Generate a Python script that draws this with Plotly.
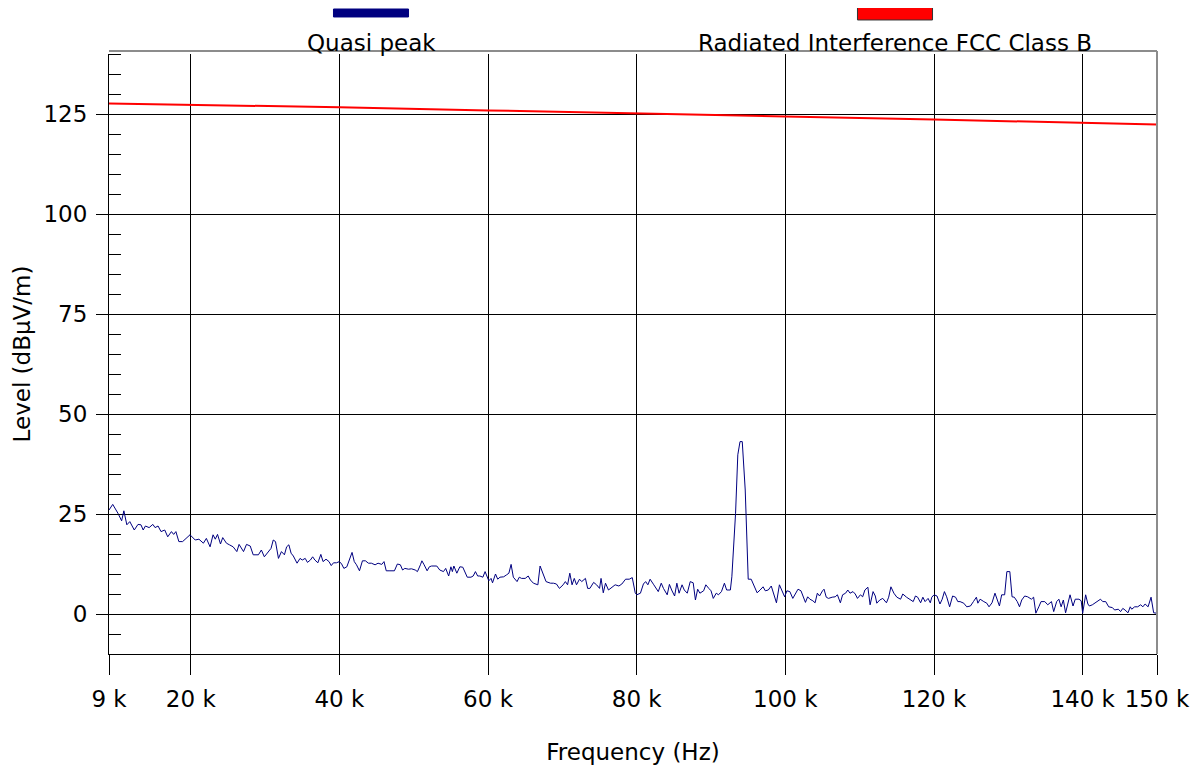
import plotly.graph_objects as go

# ---------------- data ----------------
qp_name = "Quasi peak"
limit_name = "Radiated Interference FCC Class B"

qp_freq_khz = [
    9.0, 9.5, 10.2, 10.7, 11.0, 11.4, 11.8, 12.4, 12.9, 13.3, 13.6, 13.9, 14.4, 14.9, 15.2, 15.6,
    16.0, 16.5, 16.9, 17.4, 17.7, 18.0, 18.4, 18.9, 19.9, 20.6, 21.1, 21.7, 22.1, 22.6, 23.0, 23.3,
    23.6, 24.0, 24.3, 24.8, 25.2, 25.7, 26.2, 26.5, 27.1, 27.5, 28.0, 28.4, 29.1, 29.5, 29.9, 30.4,
    30.8, 31.1, 31.4, 31.8, 32.2, 32.6, 32.9, 33.2, 33.5, 33.8, 34.0, 34.3, 34.7, 35.0, 35.4, 35.7,
    36.1, 36.4, 36.7, 37.1, 37.5, 37.8, 38.2, 38.6, 38.9, 39.2, 39.6, 40.0, 40.3, 40.6, 41.0, 41.3,
    41.7, 42.0, 42.3, 42.7, 43.1, 43.5, 43.9, 44.3, 44.8, 45.2, 45.7, 46.0, 46.3, 46.8, 47.4, 47.8,
    48.2, 48.5, 48.8, 49.3, 49.7, 50.2, 50.5, 50.9, 51.1, 51.4, 51.8, 52.1, 52.4, 53.1, 53.5, 54.0,
    54.3, 54.7, 55.0, 55.2, 55.4, 55.8, 56.2, 56.6, 56.9, 57.2, 57.7, 58.0, 58.3, 58.6, 58.9, 59.3,
    59.6, 59.8, 60.1, 60.4, 60.6, 61.0, 61.3, 61.6, 62.1, 62.5, 62.8, 63.1, 63.4, 63.9, 64.2, 64.5,
    65.0, 65.4, 65.7, 66.1, 66.7, 67.0, 67.4, 67.8, 68.4, 68.8, 69.2, 69.6, 70.1, 70.4, 70.7, 71.0,
    71.3, 71.6, 71.9, 72.3, 72.6, 73.1, 73.4, 73.7, 74.2, 74.6, 75.0, 75.2, 75.5, 75.8, 76.2, 76.7,
    77.1, 77.6, 78.0, 78.5, 79.0, 79.4, 79.8, 80.0, 80.5, 80.9, 81.2, 81.5, 81.8, 82.3, 82.9, 83.3,
    83.6, 84.1, 84.4, 84.7, 85.1, 85.4, 85.7, 86.1, 86.4, 86.8, 87.2, 87.6, 87.9, 88.2, 88.5, 89.0,
    89.3, 89.7, 90.0, 90.3, 90.7, 91.0, 91.4, 91.8, 92.1, 92.6, 92.8, 93.3, 93.6, 93.9, 94.2, 94.6,
    94.8, 95.0, 95.4, 95.7, 96.2, 96.6, 97.0, 97.3, 97.7, 98.1, 98.4, 98.8, 99.2, 99.5, 99.9, 100.2,
    100.6, 101.0, 101.3, 101.7, 102.1, 102.4, 102.7, 103.0, 103.3, 103.7, 104.0, 104.3, 104.6, 105.0,
    105.2, 105.5, 105.8, 106.3, 106.7, 107.0, 107.4, 107.7, 108.1, 108.4, 108.7, 109.1, 109.4, 109.7,
    110.1, 110.4, 110.7, 111.1, 111.4, 111.8, 112.1, 112.3, 112.7, 113.1, 113.6, 113.9, 114.2, 114.6,
    115.0, 115.5, 115.8, 116.3, 116.8, 117.2, 117.5, 117.8, 118.2, 118.5, 118.8, 119.2, 119.5, 119.7,
    120.0, 120.4, 120.8, 121.1, 121.4, 121.7, 122.1, 122.5, 122.9, 123.2, 123.5, 124.0, 124.4, 124.9,
    125.3, 125.7, 125.9, 126.2, 126.7, 127.1, 127.4, 127.8, 128.2, 128.5, 128.8, 129.1, 129.5, 129.8,
    130.2, 130.5, 130.8, 131.2, 131.5, 131.8, 132.2, 132.6, 133.1, 133.4, 133.7, 134.1, 134.4, 134.9,
    135.3, 135.8, 136.1, 136.5, 136.8, 137.1, 137.4, 137.7, 138.0, 138.3, 138.7, 139.0, 139.5, 139.8,
    140.0, 140.4, 140.7, 140.9, 141.3, 141.7, 142.1, 142.4, 142.7, 143.1, 143.5, 144.0, 144.3, 144.8,
    145.1, 145.4, 145.7, 146.1, 146.4, 146.6, 147.0, 147.4, 147.8, 148.1, 148.4, 148.8, 149.2, 149.55,
    150.0,
]

qp_level = [
    26.0, 27.4, 25.2, 23.3, 25.8, 22.3, 23.1, 21.0, 22.4, 22.3, 21.0, 22.0, 21.6, 22.4, 21.6, 22.0,
    20.6, 21.0, 19.3, 20.6, 19.9, 20.6, 18.1, 18.1, 19.8, 18.5, 18.7, 17.7, 18.9, 16.8, 19.8, 18.7,
    19.9, 17.5, 19.1, 17.7, 17.3, 16.8, 15.6, 17.4, 15.6, 17.4, 17.0, 14.8, 14.8, 16.0, 14.3, 15.6,
    16.4, 18.5, 18.1, 13.9, 15.6, 14.8, 16.8, 17.3, 15.2, 14.5, 13.9, 12.7, 13.9, 13.5, 13.9, 12.9,
    13.5, 14.3, 13.5, 12.8, 14.9, 13.1, 13.7, 13.1, 12.1, 12.8, 12.8, 13.1, 12.5, 11.4, 11.8, 13.5,
    15.4, 13.1, 12.3, 10.8, 13.3, 13.3, 12.7, 12.7, 12.3, 12.7, 12.4, 13.1, 10.8, 10.8, 10.8, 12.5,
    12.3, 11.0, 11.4, 11.2, 11.3, 11.0, 10.6, 12.3, 13.3, 12.3, 10.8, 11.8, 12.0, 12.0, 11.0, 10.6,
    11.4, 9.5, 11.8, 10.6, 12.0, 10.2, 11.8, 11.7, 10.6, 9.2, 9.2, 9.5, 10.6, 9.5, 9.5, 9.2,
    10.6, 9.5, 8.3, 8.9, 7.8, 10.0, 8.7, 9.2, 9.3, 9.8, 10.2, 12.4, 9.2, 8.1, 9.2, 8.9,
    8.9, 9.5, 8.5, 7.7, 7.3, 12.0, 9.9, 8.1, 7.7, 7.7, 7.5, 6.4, 7.3, 8.1, 7.3, 10.2,
    7.3, 8.9, 7.3, 8.7, 8.1, 8.9, 6.4, 6.4, 7.9, 7.3, 6.4, 8.9, 5.3, 7.7, 6.0, 6.7,
    7.3, 7.0, 7.5, 8.7, 8.7, 9.1, 5.3, 4.8, 5.2, 7.5, 8.1, 7.3, 8.7, 7.3, 5.6, 7.7,
    6.4, 4.8, 7.4, 6.0, 4.5, 7.7, 5.2, 7.3, 6.0, 5.2, 8.1, 7.8, 3.5, 6.2, 5.2, 5.8,
    7.3, 6.4, 5.8, 3.9, 5.2, 4.8, 5.6, 7.7, 6.0, 6.0, 9.3, 25.2, 39.8, 43.1, 43.1, 31.0,
    18.5, 8.7, 8.7, 7.3, 5.3, 6.0, 6.8, 5.8, 6.0, 7.0, 5.2, 2.8, 7.3, 5.8, 4.3, 5.8,
    5.6, 3.9, 4.8, 6.2, 5.8, 4.5, 2.9, 4.3, 3.7, 3.3, 2.8, 5.2, 4.5, 5.8,
    6.2, 4.2, 3.9, 4.2, 4.3, 4.8, 2.8, 4.8, 5.2, 6.0, 5.2, 5.6, 5.0, 3.9,
    4.8, 4.3, 6.0, 6.7, 2.3, 5.6, 4.5, 2.7, 3.5, 3.9, 2.8, 4.2, 6.8, 5.2,
    4.2, 3.7, 5.0, 4.2, 3.7, 3.1, 4.5, 4.2, 2.8, 4.2, 3.1, 3.9, 2.8, 4.2,
    4.8, 4.5, 2.5, 3.7, 5.6, 4.3, 1.8, 4.5, 4.2, 3.1, 3.1, 2.7, 1.8, 2.0,
    3.1, 4.2, 2.7, 3.7, 3.1, 2.7, 1.8, 2.8, 5.2, 3.7, 2.0, 4.8, 4.8, 10.6,
    10.6, 4.3, 4.2, 3.1, 1.8, 3.5, 4.5, 4.3, 3.7, 4.2, 0.2, 1.8, 3.1, 3.1,
    2.3, 3.1, 0.6, 3.1, 3.7, 1.8, 3.5, 0.3, 2.8, 4.8, 2.0, 3.7, 3.7, 3.3,
    0.2, 4.8, 2.5, 2.0, 2.3, 2.8, 3.5, 3.7, 3.1, 3.1, 1.8, 1.6, 1.0, 1.2,
    0.6, 1.4, 1.0, 0.3, 1.8, 1.2, 1.8, 1.8, 2.3, 1.8, 2.5, 1.8, 4.2, 0.3,
    0.2,
]

limit_freq_khz = [9, 20, 40, 60, 80, 100, 120, 140, 150]
limit_level = [127.6, 127.3, 126.7, 125.9, 125.2, 124.4, 123.6, 122.8, 122.4]

x_tickvals = [9, 20, 40, 60, 80, 100, 120, 140, 150]
x_ticktext = ["9 k", "20 k", "40 k", "60 k", "80 k", "100 k", "120 k", "140 k", "150 k"]
y_tickvals = [0, 25, 50, 75, 100, 125]

qp_color = "#000080"
limit_color = "#ff0000"
FONT = "DejaVu Sans"
FS = 23

# ---------------- figure ----------------
fig = go.Figure()
fig.add_trace(go.Scatter(x=qp_freq_khz, y=qp_level, mode="lines", name=qp_name,
                         line=dict(color=qp_color, width=1), showlegend=False))
fig.add_trace(go.Scatter(x=limit_freq_khz, y=limit_level, mode="lines", name=limit_name,
                         line=dict(color=limit_color, width=2), showlegend=False))

fig.update_layout(
    width=1198, height=771,
    margin=dict(l=101, r=49, t=46, b=125),
    paper_bgcolor="white", plot_bgcolor="white",
    font=dict(family=FONT, size=FS, color="black"),
    showlegend=False,
)

fig.update_xaxes(
    range=[9, 150], tickvals=x_tickvals, ticktext=x_ticktext,
    showgrid=True, gridcolor="black", gridwidth=1,
    ticks="outside", ticklen=20, tickcolor="black", tickwidth=1,
    showline=True, linecolor="black", linewidth=1, zeroline=False,
    tickfont=dict(size=FS), ticklabelstandoff=4,
    title=dict(text="Frequency (Hz)", font=dict(size=FS), standoff=33),
)
fig.update_yaxes(
    range=[-10, 140], tickvals=y_tickvals,
    showgrid=True, gridcolor="black", gridwidth=1,
    ticks="outside", ticklen=12, tickcolor="black", tickwidth=1,
    minor=dict(dtick=5, tick0=0, ticks="inside", ticklen=12, tickcolor="black",
               tickwidth=1, showgrid=False),
    showline=True, linecolor="black", linewidth=1, zeroline=False,
    tickfont=dict(size=FS), ticklabelstandoff=4,
    title=dict(text="Level (dBµV/m)", font=dict(size=FS), standoff=6),
)

# top and right frame (gray)
fig.add_shape(type="line", xref="paper", yref="paper", x0=0, x1=1, y0=1.005, y1=1.005,
              line=dict(color="#8c8c8c", width=2))
fig.add_shape(type="line", xref="paper", yref="paper", x0=1, x1=1, y0=0, y1=1.005,
              line=dict(color="#8c8c8c", width=2))

# legend drawn above plot: swatch over label
legend_items = [
    # name, colour, centre x, swatch y0, swatch y1, border colour
    (qp_name, qp_color, 0.25, 1.0617, 1.075, qp_color),
    (limit_name, limit_color, 0.75, 1.0567, 1.0817, "#333333"),
]
for name, color, cx, sy0, sy1, border in legend_items:
    fig.add_shape(type="rect", xref="paper", yref="paper",
                  x0=cx - 0.0358, x1=cx + 0.0358, y0=sy0, y1=sy1,
                  fillcolor=color, line=dict(color=border, width=1))
    fig.add_annotation(text=name, xref="paper", yref="paper", x=cx, y=1.0183,
                       xanchor="center", yanchor="middle", showarrow=False,
                       font=dict(size=FS, color="black"))

fig.write_html("out.html")
